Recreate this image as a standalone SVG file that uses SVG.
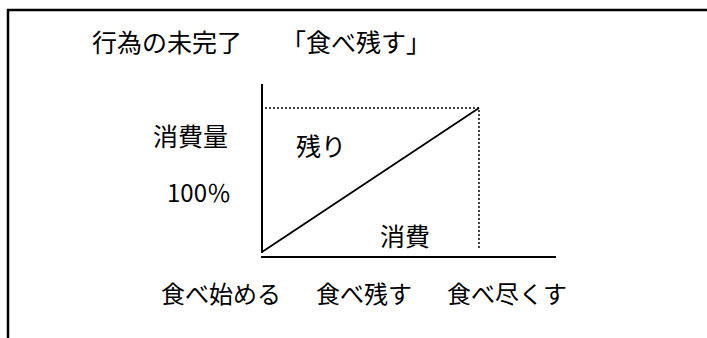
<svg xmlns="http://www.w3.org/2000/svg" width="707" height="338" viewBox="0 0 707 338">
<style>
.t{font-family:"Noto Sans CJK JP","Liberation Sans",sans-serif;fill:#000;font-size:25px}
.s{font-size:24px}
.ax{stroke:#000;stroke-width:2;fill:none}
.dot{stroke:#000;stroke-width:1.5;stroke-dasharray:2 2;fill:none}
</style>
<rect width="707" height="338" fill="#fff"/>
<g id="frame"><path d="M8 338 V10 H707" fill="none" stroke="#000" stroke-width="2.5"/></g>
<g id="title"><text class="t" x="92" y="52">行為の未完了<tspan x="281">「食べ残す」</tspan></text></g>
<g id="connectors">
<path class="ax" d="M262 84 V253"/>
<path class="ax" d="M261 257 H556"/>
<path class="dot" d="M265 108 H479 V250"/>
<path d="M262 252 L479 108" stroke="#000" stroke-width="1.8" fill="none"/>
</g>
<g id="ylabel"><text class="t" x="153" y="146">消費量</text></g>
<g id="pct"><text class="t s" x="167" y="202">100％</text></g>
<g id="remain"><text class="t" x="296" y="156">残り</text></g>
<g id="consume"><text class="t" x="380" y="246">消費</text></g>
<g id="l1"><text class="t s" x="161" y="303">食べ始める</text></g>
<g id="l2"><text class="t s" x="316" y="303">食べ残す</text></g>
<g id="l3"><text class="t s" x="447" y="303">食べ尽くす</text></g>
</svg>
